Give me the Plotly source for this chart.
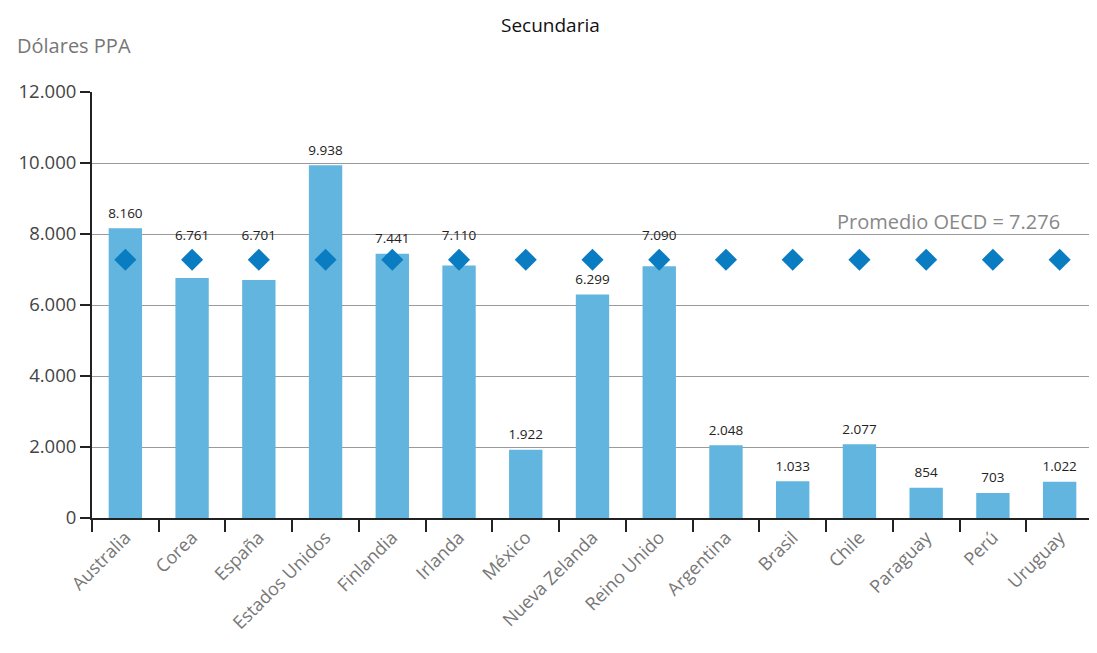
import plotly.graph_objects as go

countries = ["Australia", "Corea", "España", "Estados Unidos", "Finlandia", "Irlanda",
             "México", "Nueva Zelanda", "Reino Unido", "Argentina", "Brasil", "Chile",
             "Paraguay", "Perú", "Uruguay"]
values = [8160, 6761, 6701, 9938, 7441, 7110, 1922, 6299, 7090, 2048, 1033, 2077, 854, 703, 1022]
oecd_avg = 7276
y_ticks = [0, 2000, 4000, 6000, 8000, 10000, 12000]

# labels that would collide with the OECD diamond are lifted above it
def label_anchor(v):
    if oecd_avg - 900 < v < oecd_avg + 110:
        return oecd_avg + 250
    return v

label_y = [label_anchor(v) for v in values]

fig = go.Figure()
fig.add_trace(go.Bar(
    x=countries, y=values, width=0.5,
    marker=dict(color="#62b5de", line=dict(width=0)),
    showlegend=False, hoverinfo="skip",
))
fig.add_trace(go.Scatter(
    x=countries, y=[oecd_avg] * len(countries), mode="markers",
    marker=dict(symbol="diamond", size=17, color="#0a7cc1"),
    showlegend=False,
))
# value labels, offset above the bars
fig.add_trace(go.Scatter(
    x=countries, y=label_y, mode="markers+text",
    marker=dict(size=10, opacity=0),
    text=[f"{v:,}".replace(",", ".") for v in values], textposition="top center",
    textfont=dict(family="Open Sans", size=13.5, color="#222"),
    cliponaxis=False, showlegend=False, hoverinfo="skip",
))

fig.update_layout(
    width=1097, height=653,
    margin=dict(l=84, r=12, t=84, b=143),
    paper_bgcolor="white", plot_bgcolor="white",
    separators=",.",
    font=dict(family="Open Sans", color="#444"),
    annotations=[
        dict(text="Secundaria", xref="paper", yref="paper", x=(550 - 92) / 1001, y=1.0, yshift=67,
             showarrow=False, font=dict(size=19, color="#111"), xanchor="center", yanchor="middle"),
        dict(text="Dólares PPA", xref="paper", yref="paper", x=-77 / 1001, y=1.0, yshift=47,
             showarrow=False, font=dict(size=20, color="#777"), xanchor="left", yanchor="middle"),
        dict(text=f"Promedio OECD = {oecd_avg/1000:.3f}", xref="paper", yref="y",
             x=(1062 - 92) / 1001, y=8366,
             showarrow=False, font=dict(size=20, color="#888"), xanchor="right", yanchor="middle"),
    ],
)
fig.update_yaxes(
    range=[0, 12000], tickvals=y_ticks, tickformat=",d", automargin=False,
    showgrid=True, gridcolor="#9a9a9a", gridwidth=1,
    showline=True, linecolor="#222", linewidth=2,
    ticks="outside", ticklen=10, tickcolor="#222", tickwidth=2,
    tickfont=dict(size=18.5, color="#444"), zeroline=False,
)
fig.update_xaxes(
    range=[-0.5, 14.5], automargin=False,
    showline=True, linecolor="#222", linewidth=2,
    ticks="outside", ticklen=12, tickcolor="#222", tickwidth=2,
    tickson="boundaries", tickangle=-45,
    tickfont=dict(size=18, color="#777"),
)

fig.write_html("out.html")
